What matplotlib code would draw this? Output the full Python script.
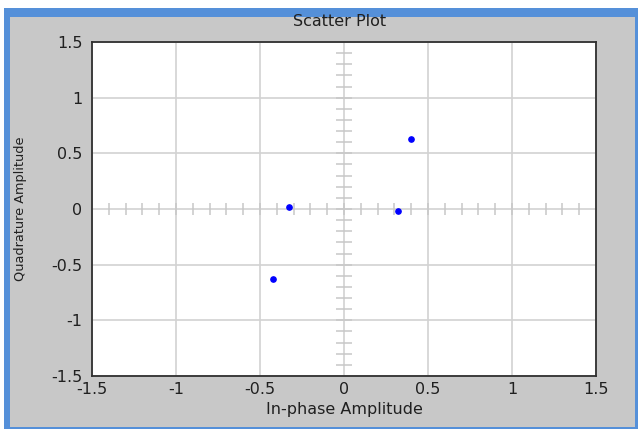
import numpy as np
import matplotlib
matplotlib.use('Agg')
import matplotlib.pyplot as plt
from matplotlib.patches import Rectangle

# scatter points (in-phase, quadrature)
i_vals = [0.40, -0.42, -0.33, 0.32]
q_vals = [0.63, -0.63, 0.02, -0.02]

ticks = [-1.5, -1, -0.5, 0, 0.5, 1, 1.5]
tick_labels = ['-1.5', '-1', '-0.5', '0', '0.5', '1', '1.5']

W, H = 638, 429
fig = plt.figure(figsize=(W / 100, H / 100), dpi=100)
fig.patch.set_facecolor('white')

# blue window frame + gray panel
fig.patches.append(Rectangle((4 / W, 0), 634 / W, 421 / H, transform=fig.transFigure,
                             facecolor='#5590d9', edgecolor='none', zorder=-2))
fig.patches.append(Rectangle((10 / W, 2 / H), 625 / W, 410 / H, transform=fig.transFigure,
                             facecolor='#c8c8c8', edgecolor='none', zorder=-1))

ax = fig.add_axes([92 / W, 53 / H, 504 / W, 334 / H])
ax.set_facecolor('white')
ax.set_xlim(-1.5, 1.5)
ax.set_ylim(-1.5, 1.5)
ax.set_xticks(ticks)
ax.set_xticklabels(tick_labels)
ax.set_yticks(ticks)
ax.set_yticklabels(tick_labels)
ax.tick_params(axis='both', length=0, labelsize=11.5, labelcolor='#202020')
ax.tick_params(axis='x', pad=4)
ax.tick_params(axis='y', pad=7)
ax.grid(True, color='#d2d2d2', linewidth=1.2)
ax.set_axisbelow(True)
for s in ax.spines.values():
    s.set_color('#303030')
    s.set_linewidth(1.3)

# minor tick marks along the centre cross
minor = np.round(np.arange(-1.4, 1.41, 0.1), 2)
ax.plot(minor, np.zeros_like(minor), linestyle='none', marker='|', markersize=8.5,
        markeredgewidth=1.1, color='#c8c8c8', zorder=1)
ax.plot(np.zeros_like(minor), minor, linestyle='none', marker='_', markersize=12,
        markeredgewidth=1.1, color='#c8c8c8', zorder=1)

ax.plot(i_vals, q_vals, linestyle='none', marker='o', markersize=3.8,
        color='#0000ff', zorder=3)

ax.set_xlabel('In-phase Amplitude', fontsize=11.5, color='#202020', va='center')
ax.xaxis.set_label_coords(0.5, -0.099)
ax.set_ylabel('Quadrature Amplitude', fontsize=9.3, color='#202020', va='center')
ax.yaxis.set_label_coords(-0.141, 0.5)

fig.text(340 / W, 1 - 22 / H, 'Scatter Plot', fontsize=11.5, color='#202020',
         ha='center', va='center')

fig.savefig('out.png', dpi=100, facecolor=fig.get_facecolor())
